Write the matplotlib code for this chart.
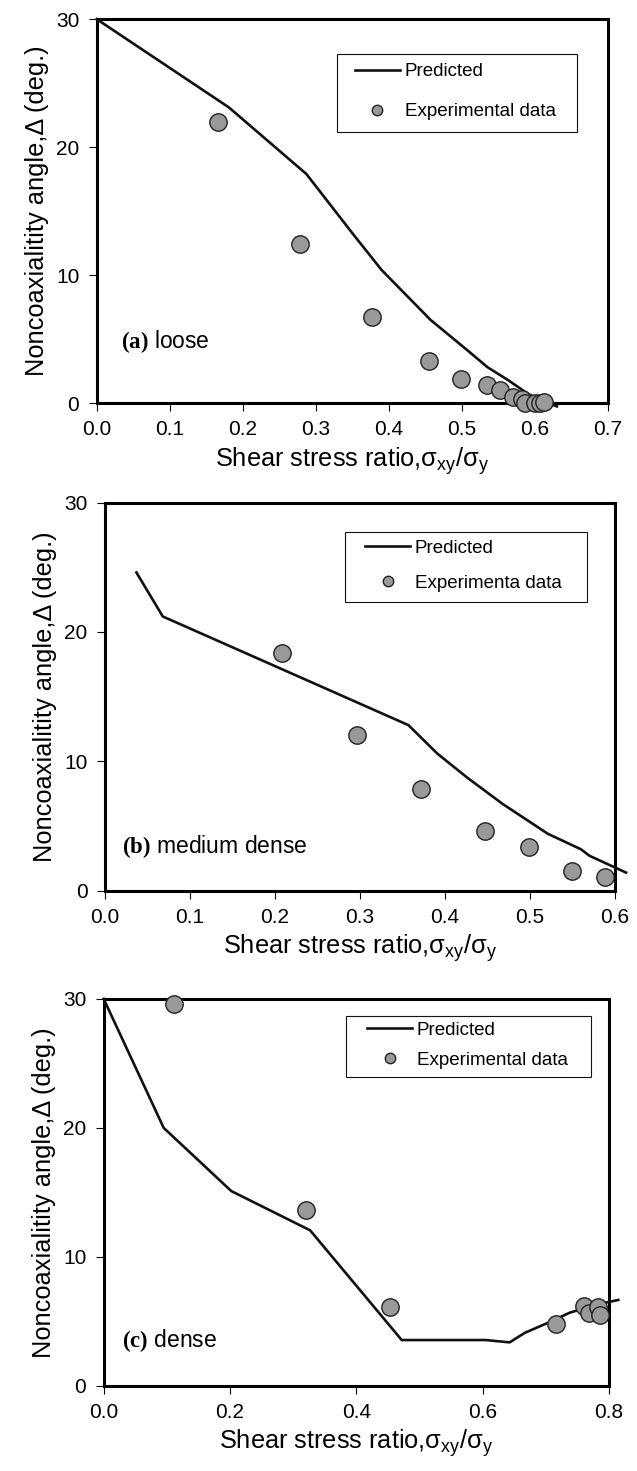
import numpy as np
import matplotlib
matplotlib.use("Agg")
import matplotlib.pyplot as plt
from matplotlib.patches import Rectangle

plt.rcParams['font.family'] = ['Liberation Sans', 'DejaVu Sans']
plt.rcParams['mathtext.fontset'] = 'custom'
plt.rcParams['mathtext.default'] = 'regular'
plt.rcParams['mathtext.bf'] = 'Liberation Serif:bold'

# (a) loose
a_pred_x = [0.0, 0.181, 0.287, 0.351, 0.390, 0.457, 0.508, 0.535, 0.563, 0.591, 0.613, 0.630]
a_pred_y = [30.0, 23.1, 17.9, 13.2, 10.4, 6.5, 4.1, 2.8, 1.8, 0.7, 0.1, -0.26]
a_exp_x = [0.166, 0.278, 0.377, 0.455, 0.499, 0.534, 0.552, 0.570, 0.582, 0.586, 0.600, 0.607, 0.613]
a_exp_y = [22.0, 12.4, 6.7, 3.3, 1.9, 1.4, 1.0, 0.45, 0.35, 0.0, 0.0, 0.0, 0.1]

# (b) medium dense
b_pred_x = [0.037, 0.068, 0.357, 0.391, 0.427, 0.468, 0.521, 0.560, 0.570, 0.613]
b_pred_y = [24.6, 21.2, 12.8, 10.6, 8.7, 6.7, 4.4, 3.2, 2.7, 1.4]
b_exp_x = [0.208, 0.296, 0.372, 0.447, 0.499, 0.549, 0.588]
b_exp_y = [18.4, 12.0, 7.9, 4.6, 3.35, 1.55, 1.03]

# (c) dense
c_pred_x = [0.0, 0.095, 0.202, 0.327, 0.472, 0.605, 0.643, 0.667, 0.708, 0.738, 0.770, 0.795, 0.815]
c_pred_y = [30.0, 20.0, 15.1, 12.05, 3.54, 3.54, 3.36, 4.1, 4.97, 5.66, 6.13, 6.44, 6.65]
c_exp_x = [0.111, 0.321, 0.453, 0.717, 0.761, 0.768, 0.783, 0.786]
c_exp_y = [29.6, 13.6, 6.1, 4.8, 6.2, 5.6, 6.1, 5.5]

panels = [
    dict(rect=[0.1518, 0.7260, 0.8027, 0.2610], px=a_pred_x, py=a_pred_y, ex=a_exp_x, ey=a_exp_y,
         xmax=0.7, xstep=0.1, tag='(a)', name='loose', tagpos=(0.048, 0.143),
         exp_label='Experimental data', box=(0.4706, 0.7065, 0.940, 0.9089),
         leg=(0.505, 0.8114), lsp=1.22),
    dict(rect=[0.1648, 0.3945, 0.8006, 0.2638], px=b_pred_x, py=b_pred_y, ex=b_exp_x, ey=b_exp_y,
         xmax=0.6, xstep=0.1, tag='(b)', name='medium dense', tagpos=(0.033, 0.097),
         exp_label='Experimenta data', box=(0.4704, 0.7448, 0.9447, 0.9253),
         leg=(0.510, 0.8374), lsp=0.98),
    dict(rect=[0.1628, 0.0580, 0.7929, 0.2629], px=c_pred_x, py=c_pred_y, ex=c_exp_x, ey=c_exp_y,
         xmax=0.8, xstep=0.2, tag='(c)', name='dense', tagpos=(0.036, 0.10),
         exp_label='Experimental data', box=(0.479, 0.7975, 0.9646, 0.9568),
         leg=(0.5217, 0.880), lsp=0.70),
]

fig = plt.figure(figsize=(6.37, 14.71), dpi=100)

for p in panels:
    ax = fig.add_axes(p['rect'])
    ax.plot(p['px'], p['py'], color='#111111', lw=1.9, clip_on=False, label='Predicted', zorder=3)
    ax.plot(p['ex'], p['ey'], 'o', ms=12.5, mfc='#999999', mec='#222222', mew=1.0,
            clip_on=False, label=p['exp_label'], zorder=4)
    ax.set_xlim(0, p['xmax'])
    ax.set_ylim(0, 30)
    ax.set_xticks(np.arange(0, p['xmax'] + 1e-9, p['xstep']))
    ax.set_yticks([0, 10, 20, 30])
    ax.xaxis.set_major_formatter(matplotlib.ticker.FormatStrFormatter('%.1f'))
    ax.tick_params(direction='out', length=5.5, width=0.8, labelsize=15, pad=7)
    for s in ax.spines.values():
        s.set_linewidth(2.2)
    ax.set_xlabel('Shear stress ratio,σ$_{xy}$/σ$_{y}$', fontsize=18.3, labelpad=4)
    ax.set_ylabel('Noncoaxialitity angle,Δ (deg.)', fontsize=18.3, labelpad=5)
    ax.text(p['tagpos'][0], p['tagpos'][1], r'$\mathbf{' + p['tag'] + '}$ ' + p['name'],
            transform=ax.transAxes, fontsize=16.5)
    x0, y0, x1, y1 = p['box']
    ax.add_patch(Rectangle((x0, y0), x1 - x0, y1 - y0, transform=ax.transAxes,
                           fill=False, lw=0.8, ec='#111111', zorder=5))
    ax.legend(loc='center left', bbox_to_anchor=p['leg'], frameon=False, fontsize=13.5,
              borderpad=0, borderaxespad=0, handlelength=2.4, handletextpad=0.25,
              labelspacing=p['lsp'], markerscale=0.6)

fig.savefig('out.png', dpi=100)
